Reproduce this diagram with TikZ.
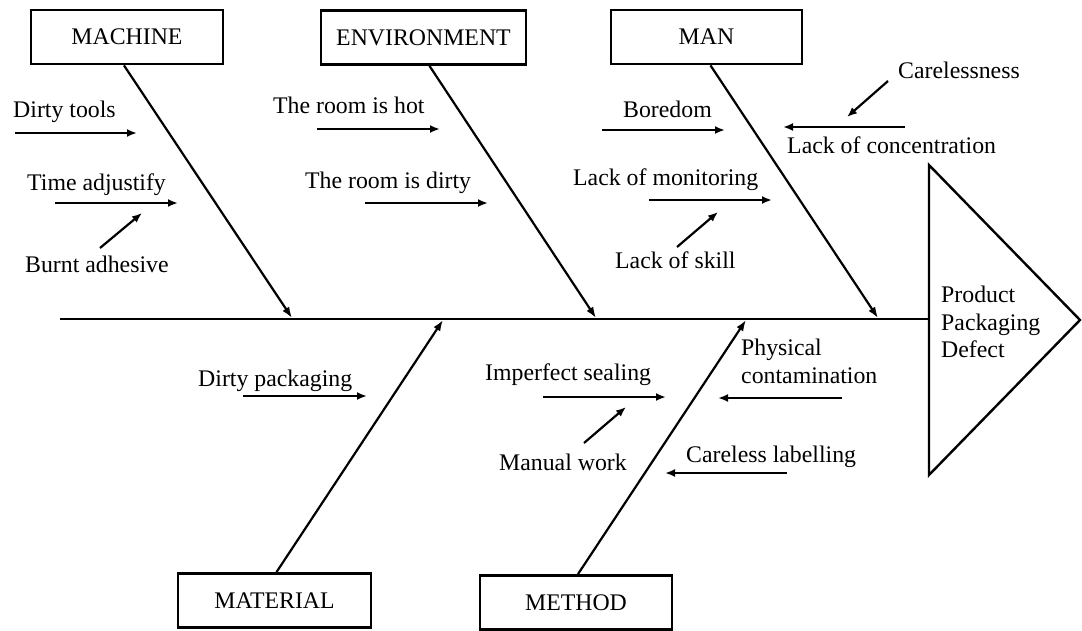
\documentclass[tikz,border=0pt]{standalone}
\usepackage{fontspec}
\setmainfont{Liberation Serif}
\usetikzlibrary{arrows.meta}

\begin{document}
\begin{tikzpicture}[x=1pt, y=-1pt, font=\fontsize{23.8}{27.5}\selectfont]
  \tikzstyle{category}=[draw, line width=2.8pt, minimum width=192pt, minimum height=54pt, inner sep=0pt]
  \tikzstyle{bone}=[line width=2.2pt, -{Latex[length=11pt,width=8pt]}]
  \tikzstyle{cause}=[line width=2.2pt, -{Latex[length=10pt,width=8pt]}]
  \tikzstyle{reason}=[anchor=base west, inner sep=0pt]

  \useasboundingbox (0,0) rectangle (1082,630);

  % spine and head
  \coordinate (tail) at (60,319);
  \coordinate (head) at (929,319);
  \coordinate (tri-top) at (929,165);
  \coordinate (tri-tip) at (1080,320);
  \coordinate (tri-bot) at (929,475);
  \draw[line width=2.2pt] (tail) -- (head);
  \draw[line width=2.4pt, line join=miter] (tri-top) -- (tri-tip) -- (tri-bot) -- cycle;
  \node (effect) at (941,322) [anchor=west, align=left, inner sep=0pt] {Product\\Packaging\\Defect};

  % categories
  \node (machine) at (127,37) [category] {MACHINE};
  \node (environment) at (423.5,37.5) [category, minimum width=205pt] {ENVIRONMENT};
  \node (man) at (706.5,37) [category, minimum width=191pt] {MAN};
  \node (material) at (274.5,600.5) [category, minimum width=193pt] {MATERIAL};
  \node (method) at (576,602.5) [category] {METHOD};

  \coordinate (j-machine) at (292,318);
  \coordinate (j-environment) at (596,318);
  \coordinate (j-man) at (878,318);
  \coordinate (j-material) at (443,320);
  \coordinate (j-method) at (746,320);

  \draw[bone] ([xshift=-3pt]machine.south) -- (j-machine);
  \draw[bone] ([xshift=6pt]environment.south) -- (j-environment);
  \draw[bone] ([xshift=4pt]man.south) -- (j-man);
  \draw[bone] ([xshift=2pt]material.north) -- (j-material);
  \draw[bone] ([xshift=2pt]method.north) -- (j-method);

  % machine causes
  \node (tools) at (13,117) [reason] {Dirty tools};
  \node (adjust) at (27,190) [reason] {Time adjustify};
  \node (adhesive) at (25,272) [reason] {Burnt adhesive};
  \coordinate (tools-a) at (15,133);
  \coordinate (tools-b) at (137,133);
  \coordinate (adjust-a) at (55,203);
  \coordinate (adjust-b) at (178,203);
  \coordinate (adhesive-a) at (100,248);
  \coordinate (adhesive-b) at (142,213);
  \draw[cause] (tools-a) -- (tools-b);
  \draw[cause] (adjust-a) -- (adjust-b);
  \draw[cause] (adhesive-a) -- (adhesive-b);

  % environment causes
  \node (hot) at (273,113) [reason] {The room is hot};
  \node (dirty) at (305,188) [reason] {The room is dirty};
  \coordinate (hot-a) at (317,129);
  \coordinate (hot-b) at (440,129);
  \coordinate (dirty-a) at (365,203);
  \coordinate (dirty-b) at (488,203);
  \draw[cause] (hot-a) -- (hot-b);
  \draw[cause] (dirty-a) -- (dirty-b);

  % man causes
  \node (boredom) at (623,117) [reason] {Boredom};
  \node (monitoring) at (573,185) [reason] {Lack of monitoring};
  \node (skill) at (615,268) [reason] {Lack of skill};
  \node (careless) at (898,78) [reason] {Carelessness};
  \node (concentration) at (787,153) [reason] {Lack of concentration};
  \coordinate (boredom-a) at (602,130);
  \coordinate (boredom-b) at (725,130);
  \coordinate (monitoring-a) at (649,200);
  \coordinate (monitoring-b) at (772,200);
  \coordinate (skill-a) at (677,247);
  \coordinate (skill-b) at (718,212);
  \coordinate (careless-a) at (888,81);
  \coordinate (careless-b) at (847,117);
  \coordinate (concentration-a) at (905,127);
  \coordinate (concentration-b) at (783,127);
  \draw[cause] (boredom-a) -- (boredom-b);
  \draw[cause] (monitoring-a) -- (monitoring-b);
  \draw[cause] (skill-a) -- (skill-b);
  \draw[cause] (careless-a) -- (careless-b);
  \draw[cause] (concentration-a) -- (concentration-b);

  % material causes
  \node (packaging) at (198,386) [reason] {Dirty packaging};
  \coordinate (packaging-a) at (243,396);
  \coordinate (packaging-b) at (367,396);
  \draw[cause] (packaging-a) -- (packaging-b);

  % method causes
  \node (sealing) at (485,380) [reason] {Imperfect sealing};
  \node (manual) at (499,470) [reason] {Manual work};
  \node (physical) at (741,355) [reason] {Physical};
  \node (contamination) at (741,383) [reason] {contamination};
  \node (labelling) at (686,462) [reason] {Careless labelling};
  \coordinate (sealing-a) at (543,397);
  \coordinate (sealing-b) at (666,397);
  \coordinate (manual-a) at (584,443);
  \coordinate (manual-b) at (626,407);
  \coordinate (contamination-a) at (842,398);
  \coordinate (contamination-b) at (718,398);
  \coordinate (labelling-a) at (787,473);
  \coordinate (labelling-b) at (665,473);
  \draw[cause] (sealing-a) -- (sealing-b);
  \draw[cause] (manual-a) -- (manual-b);
  \draw[cause] (contamination-a) -- (contamination-b);
  \draw[cause] (labelling-a) -- (labelling-b);

\end{tikzpicture}
\end{document}
